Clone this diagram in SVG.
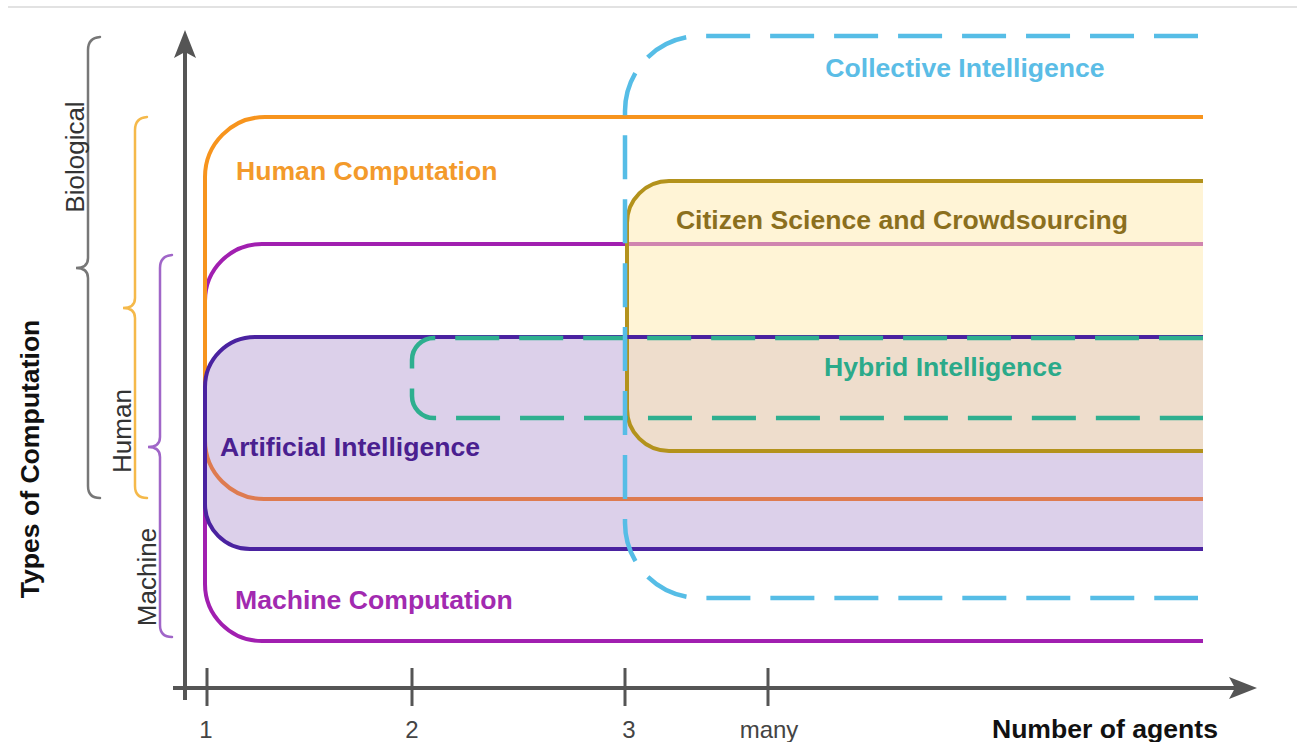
<svg xmlns="http://www.w3.org/2000/svg" width="1297" height="742" viewBox="0 0 1297 742">
<style>
text{font-family:"Liberation Sans",Arial,sans-serif;}
.lbl{font-size:26.6px;font-weight:bold;}
.reg{font-size:26px;}
.tick{font-size:24px;fill:#444;text-anchor:middle;}
.line{fill:none;stroke-width:4;}
.dash{fill:none;stroke-width:4.5;stroke-dasharray:44 19.98;}
.brace{fill:none;stroke-width:2.5;stroke-linecap:round;}
.axis{stroke:#555;stroke-width:4;fill:none;}
</style>
<rect width="1297" height="742" fill="#fff"/>
<line x1="8" y1="7" x2="1297" y2="7" stroke="#e2e2e2" stroke-width="2"/>

<g id="artificial-intelligence-fill">
<path d="M1203,337 H255 A50,50 0 0 0 205,387 V504 A45,45 0 0 0 250,549 H1203 Z" fill="#DCD0EA"/>
</g>

<g id="machine-computation">
<path class="line" stroke="#A11FB0" d="M1203,244 H262 A57,57 0 0 0 205,301 V584 A57,57 0 0 0 262,641 H1203"/>
<text class="lbl" x="235" y="609" fill="#A22AB0">Machine Computation</text>
</g>

<g id="human-computation">
<path class="line" stroke="#F7941D" d="M1203,117 H265 A60,60 0 0 0 205,177 V440"/>
<path class="line" stroke="#DE7B50" d="M205,440 A59,59 0 0 0 264,499 H1203"/>
<text class="lbl" x="236" y="180" fill="#F39A2B">Human Computation</text>
</g>

<g id="citizen-science">
<path d="M1203,181 H669 A42,42 0 0 0 627,223 V409 A42,42 0 0 0 669,451 H1203 Z" fill="#FFE9AD" fill-opacity="0.5"/>
<path class="line" stroke="#B3921C" d="M1203,181 H669 A42,42 0 0 0 627,223 V409 A42,42 0 0 0 669,451 H1203"/>
<text class="lbl" x="902" y="229" fill="#8B6F1E" text-anchor="middle">Citizen Science and Crowdsourcing</text>
</g>

<g id="artificial-intelligence">
<path class="line" stroke="#4A22A0" d="M1203,337 H255 A50,50 0 0 0 205,387 V504 A45,45 0 0 0 250,549 H1203"/>
<text class="lbl" x="220" y="456" fill="#4A2090">Artificial Intelligence</text>
</g>

<g id="hybrid-intelligence">
<path class="dash" stroke="#2EAF8F" d="M1203,338 H434 A22,22 0 0 0 412,360 V396 A22,22 0 0 0 434,418 H1203"/>
<text class="lbl" x="943" y="376" fill="#2BAA8A" text-anchor="middle">Hybrid Intelligence</text>
</g>

<g id="collective-intelligence">
<path class="dash" stroke="#56BDE6" d="M1198,36 H700 A75,75 0 0 0 625,111 V523 A75,75 0 0 0 700,598 H1198"/>
<text class="lbl" x="965" y="77" fill="#5BBDE6" text-anchor="middle">Collective Intelligence</text>
</g>

<g id="axes">
<path class="axis" d="M185,700 V52"/>
<polygon points="185,30 196,58 185,52 174,58" fill="#555"/>
<path class="axis" d="M173,688 H1236"/>
<polygon points="1257,688 1229,677 1235,688 1229,699" fill="#555"/>
<g stroke="#555" stroke-width="3">
<line x1="207" y1="668" x2="207" y2="706"/>
<line x1="412" y1="668" x2="412" y2="706"/>
<line x1="625" y1="668" x2="625" y2="706"/>
<line x1="768" y1="668" x2="768" y2="706"/>
</g>
<text class="tick" x="206" y="738">1</text>
<text class="tick" x="412" y="738">2</text>
<text class="tick" x="629" y="738">3</text>
<text class="tick" x="769" y="738">many</text>
<text class="lbl" x="1218" y="738" fill="#111" text-anchor="end">Number of agents</text>
<text class="lbl" transform="translate(39,459) rotate(-90)" fill="#111" text-anchor="middle">Types of Computation</text>
</g>

<g id="biological-brace">
<path class="brace" stroke="#777" d="M100,37 Q88,38 88,50 V258 Q88,268 76,268 Q88,268 88,278 V486 Q88,498 100,498"/>
<text class="reg" transform="translate(84,157) rotate(-90)" fill="#333" text-anchor="middle">Biological</text>
</g>

<g id="human-brace">
<path class="brace" stroke="#F5B94A" d="M147,117 Q135,118 135,130 V298 Q135,308 123,308 Q135,308 135,318 V486 Q135,498 147,498"/>
<text class="reg" transform="translate(131,431) rotate(-90)" fill="#333" text-anchor="middle">Human</text>
</g>

<g id="machine-brace">
<path class="brace" stroke="#A066C8" d="M172,255 Q160,256 160,268 V437 Q160,447 148,447 Q160,447 160,457 V625 Q160,637 172,637"/>
<text class="reg" transform="translate(156,577) rotate(-90)" fill="#333" text-anchor="middle">Machine</text>
</g>
</svg>
